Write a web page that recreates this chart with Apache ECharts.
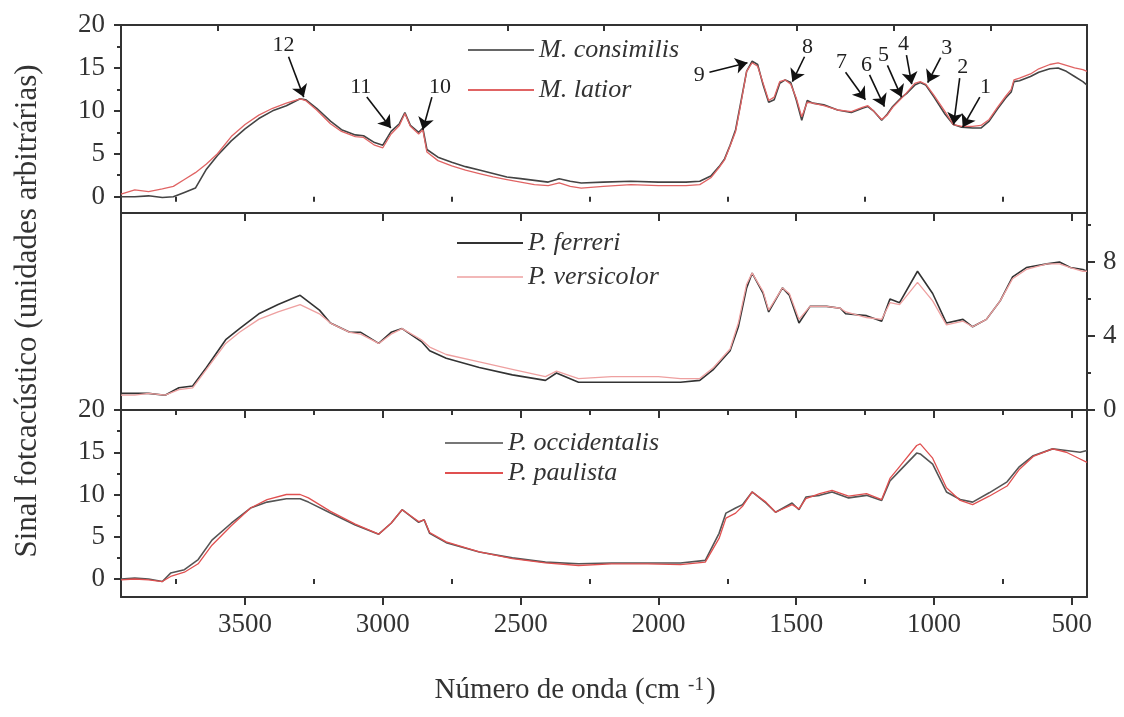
<!DOCTYPE html>
<html>
<head>
<meta charset="utf-8">
<script src="https://cdn.jsdelivr.net/npm/echarts@6.0.0/dist/echarts.min.js"></script>
<style>
  html, body { margin: 0; padding: 0; background: #fff; }
  #chart { width: 1124px; height: 717px; }
</style>
</head>
<body>
<div id="chart"></div>
<script>
// x axis ticks (cm-1)
const xMajor = [500, 1000, 1500, 2000, 2500, 3000, 3500];
const xMinor = [750, 1250, 1750, 2250, 2750, 3250, 3750];

// panel 1: M. consimilis / M. latior
const wn1 = [3950,3900,3850,3800,3760,3720,3680,3640,3600,3550,
  3500,3450,3400,3350,3300,3280,3240,3190,3150,3100,
  3070,3030,3000,2970,2940,2920,2900,2870,2855,2840,
  2800,2750,2700,2650,2600,2550,2500,2450,2400,2360,
  2320,2280,2200,2100,2000,1900,1850,1810,1780,1760,
  1740,1720,1700,1680,1660,1640,1620,1600,1580,1560,
  1540,1520,1500,1480,1460,1440,1400,1350,1300,1260,
  1240,1220,1190,1170,1150,1120,1100,1070,1050,1030,
  1000,960,930,900,860,830,800,770,740,720,
  710,690,650,620,580,550,520,490,460,445];
const consimilis = [0.0,0.0,0.1,-0.1,0.0,0.5,1.0,3.2,4.8,6.5,
  7.9,9.1,10.0,10.6,11.4,11.3,10.3,8.8,7.8,7.2,
  7.1,6.3,6.0,7.6,8.5,9.8,8.3,7.5,8.0,5.5,
  4.6,4.0,3.5,3.1,2.7,2.3,2.1,1.9,1.7,2.1,
  1.8,1.6,1.7,1.8,1.7,1.7,1.8,2.4,3.5,4.4,
  6.0,7.8,11.2,14.6,15.8,15.4,13.0,11.0,11.3,13.2,
  13.6,13.3,11.3,8.9,11.2,10.9,10.7,10.1,9.8,10.3,
  10.5,10.0,8.9,9.6,10.5,11.5,12.0,13.0,13.3,13.0,
  11.6,9.6,8.4,8.1,8.0,8.0,8.8,10.2,11.5,12.2,
  13.4,13.5,14.0,14.5,14.9,15.0,14.6,14.0,13.4,13.0];
const latior = [0.3,0.8,0.6,0.9,1.2,2.0,2.8,3.8,5.0,7.0,
  8.4,9.5,10.3,10.9,11.4,11.2,10.1,8.5,7.6,7.0,
  6.9,6.0,5.7,7.3,8.3,9.7,8.2,7.3,7.8,5.2,
  4.2,3.6,3.1,2.7,2.3,2.0,1.7,1.4,1.3,1.6,
  1.2,1.0,1.2,1.4,1.3,1.3,1.4,2.2,3.4,4.3,
  5.9,7.6,11.0,14.6,15.6,15.2,13.2,11.2,11.6,13.4,
  13.6,13.1,11.5,9.3,11.0,10.9,10.6,10.1,9.9,10.4,
  10.6,10.0,9.0,9.5,10.4,11.4,12.1,13.2,13.4,13.1,
  11.8,9.9,8.4,8.2,8.2,8.3,9.0,10.4,11.7,12.5,
  13.6,13.8,14.3,14.9,15.4,15.6,15.3,15.0,14.8,14.6];

// panel 2: P. ferreri / P. versicolor
const wn2 = [3950,3900,3850,3790,3740,3690,3640,3570,3520,3450,
  3380,3300,3230,3190,3120,3080,3015,2970,2930,2860,
  2830,2770,2650,2530,2410,2370,2290,2170,2000,1920,
  1850,1800,1740,1710,1680,1660,1620,1600,1550,1525,
  1490,1450,1390,1340,1320,1245,1190,1160,1125,1060,
  1005,955,895,860,810,760,715,665,590,545,
  505,460,445];
const ferreri = [0.9,0.9,0.9,0.8,1.2,1.3,2.3,3.8,4.4,5.2,
  5.7,6.2,5.4,4.7,4.2,4.2,3.6,4.2,4.4,3.7,
  3.2,2.8,2.3,1.9,1.6,2.0,1.5,1.5,1.5,1.5,
  1.6,2.2,3.2,4.5,6.6,7.4,6.3,5.3,6.6,6.2,
  4.7,5.6,5.6,5.5,5.2,5.1,4.8,6.0,5.8,7.5,
  6.3,4.7,4.9,4.5,4.9,5.9,7.2,7.7,7.9,8.0,
  7.7,7.6,7.5];
const versicolor = [0.8,0.8,0.9,0.8,1.1,1.2,2.2,3.6,4.2,4.9,
  5.3,5.7,5.2,4.7,4.2,4.1,3.6,4.1,4.4,3.8,
  3.4,3.0,2.6,2.2,1.8,2.1,1.7,1.8,1.8,1.7,
  1.7,2.3,3.3,4.7,6.8,7.4,6.4,5.4,6.6,6.3,
  4.9,5.6,5.6,5.5,5.3,5.0,4.9,5.8,5.7,6.9,
  5.9,4.6,4.8,4.5,4.9,5.9,7.1,7.6,7.9,7.9,
  7.7,7.5,7.5];

// panel 3: P. occidentalis / P. paulista
const wn3 = [3950,3900,3850,3800,3770,3720,3670,3620,3550,3480,
  3420,3350,3300,3270,3190,3100,3015,2970,2930,2870,
  2850,2830,2770,2650,2530,2410,2290,2170,2040,1920,
  1830,1780,1755,1720,1695,1660,1610,1575,1515,1490,
  1465,1415,1370,1310,1245,1190,1160,1125,1063,1050,
  1005,955,905,860,800,735,690,640,570,520,
  470,445];
const occidentalis = [0.0,0.1,0.0,-0.3,0.7,1.1,2.3,4.6,6.6,8.4,
  9.1,9.5,9.5,9.1,7.8,6.4,5.3,6.6,8.2,6.7,
  7.0,5.4,4.3,3.2,2.5,2.0,1.8,1.9,1.9,1.9,
  2.2,5.4,7.8,8.4,8.8,10.3,9.0,7.9,9.0,8.2,
  9.7,9.9,10.3,9.6,9.9,9.3,11.6,12.8,14.9,14.8,
  13.6,10.3,9.4,9.1,10.2,11.5,13.3,14.6,15.4,15.2,
  15.0,15.2];
const paulista = [-0.1,0.0,-0.1,-0.3,0.3,0.8,1.8,4.0,6.3,8.4,
  9.4,10.0,10.0,9.6,8.0,6.5,5.3,6.6,8.2,6.8,
  7.0,5.5,4.4,3.2,2.4,1.9,1.6,1.8,1.8,1.7,
  2.0,4.8,7.2,7.8,8.6,10.3,9.1,7.9,8.8,8.3,
  9.5,10.1,10.5,9.8,10.1,9.4,11.9,13.3,15.8,16.0,
  14.3,10.8,9.3,8.8,9.8,11.0,13.0,14.5,15.4,15.0,
  14.2,13.8];

// numbered arrows in panel 1 (data coordinates)
const arrowNames = ['12','11','10','9','8','7','6','5','4','3','2','1'];
const arrowLabelAt = [[3360,17.7],[3080,12.7],[2793,12.8],[1852,14.2],[1459,17.4],[1336,15.7],
  [1245,15.3],[1183,16.5],[1111,17.8],[954,17.3],[896,15.1],[813,12.7]];
const arrowTail = [[3342,16.3],[3058,11.6],[2822,11.6],[1815,14.5],[1470,16.3],[1321,14.5],
  [1234,14.2],[1169,15.3],[1100,16.5],[976,16.2],[907,13.8],[834,11.6]];
const arrowTip = [[3287,11.6],[2971,8.0],[2855,7.8],[1677,15.6],[1514,13.4],[1249,11.3],
  [1180,10.5],[1118,11.6],[1081,13.1],[1023,13.3],[929,8.4],[896,8.1]];

const FONT = '"Liberation Serif", "Times New Roman", serif';
const AX = '#333';
const X_MIN = 445, X_MAX = 3950;

const pairs = (xs, ys) => xs.map((x, i) => [x, ys[i]]);

function xAx(grid, ticks, len, extra) {
  return Object.assign({
    type: 'value', gridIndex: grid, min: X_MIN, max: X_MAX, inverse: true, position: 'bottom',
    axisLine: { show: true, onZero: false, lineStyle: { color: AX, width: 2 } },
    axisTick: { show: true, customValues: ticks, length: len, lineStyle: { color: AX, width: 2 } },
    axisLabel: { show: false }, splitLine: { show: false }
  }, extra || {});
}
function yAx(grid, pos, min, max, ticks, len, labels, lineShow) {
  return {
    type: 'value', gridIndex: grid, position: pos, min: min, max: max,
    axisLine: { show: lineShow, onZero: false, lineStyle: { color: AX, width: 2 } },
    axisTick: ticks ? { show: true, customValues: ticks, length: len, lineStyle: { color: AX, width: 2 } } : { show: false },
    axisLabel: labels ? { show: true, customValues: labels, fontSize: 27, fontFamily: FONT, color: AX, margin: 16 } : { show: false },
    splitLine: { show: false }
  };
}

const legendText = { fontSize: 26, fontFamily: FONT, fontStyle: 'italic', color: AX, lineHeight: 26 };
const legendBase = { orient: 'vertical', icon: 'rect', itemHeight: 2, textStyle: legendText };

const chart = echarts.init(document.getElementById('chart'));
chart.setOption({
  backgroundColor: '#fff',
  animation: false,
  grid: [
    { left: 121, right: 37, top: 25, height: 188 },
    { left: 121, right: 37, top: 213, height: 197 },
    { left: 121, right: 37, top: 410, height: 187 }
  ],
  xAxis: [
    xAx(0, xMajor, 8),
    xAx(0, xMinor, 5, { axisLine: { show: false } }),
    { type: 'value', gridIndex: 0, position: 'top', min: 0, max: 10, interval: 1,
      axisLine: { show: true, onZero: false, lineStyle: { color: AX, width: 2 } },
      axisTick: { show: true, inside: true, length: 6, lineStyle: { color: AX, width: 2 } },
      axisLabel: { show: false }, splitLine: { show: false } },
    xAx(1, xMajor, 8),
    xAx(1, xMinor, 5, { axisLine: { show: false } }),
    xAx(2, xMajor, 8, { axisLabel: { show: true, customValues: xMajor, fontSize: 27, fontFamily: FONT,
      color: AX, margin: 14, formatter: v => String(v) } }),
    xAx(2, xMinor, 5, { axisLine: { show: false } })
  ],
  yAxis: [
    yAx(0, 'left', -1.9, 20, [0, 5, 10, 15, 20], 7, [0, 5, 10, 15, 20], true),
    yAx(0, 'left', -1.9, 20, [2.5, 7.5, 12.5, 17.5], 4, null, false),
    yAx(0, 'right', -1.9, 20, null, 0, null, true),
    yAx(1, 'right', 0, 10.65, [0, 4, 8], 8, [0, 4, 8], true),
    yAx(1, 'right', 0, 10.65, [2, 6, 10], 4, null, false),
    yAx(1, 'left', 0, 10.65, null, 0, null, true),
    yAx(2, 'left', -2.13, 20, [0, 5, 10, 15, 20], 7, [0, 5, 10, 15, 20], true),
    yAx(2, 'left', -2.13, 20, [2.5, 7.5, 12.5, 17.5], 4, null, false),
    yAx(2, 'right', -2.13, 20, null, 0, null, true)
  ],
  legend: [
    Object.assign({ data: ['M. consimilis', 'M. latior'], left: 463, top: 32, itemWidth: 66, itemGap: 14 }, legendBase),
    Object.assign({ data: ['P. ferreri', 'P. versicolor'], left: 452, top: 225, itemWidth: 66, itemGap: 8 }, legendBase),
    Object.assign({ data: ['P. occidentalis', 'P. paulista'], left: 440, top: 425, itemWidth: 58, itemGap: 4 }, legendBase)
  ],
  graphic: [
    { type: 'text', x: 28, y: 311, rotation: Math.PI / 2,
      style: { text: 'Sinal fotcacústico (unidades arbitrárias)', font: '31px ' + FONT, fill: AX,
        align: 'center', verticalAlign: 'middle', textAlign: 'center', textVerticalAlign: 'middle' } },
    { type: 'text', x: 575, y: 690,
      style: { text: '{a|Número de onda (cm}{b|-1}{a|)}', fill: AX,
        align: 'center', verticalAlign: 'middle', textAlign: 'center', textVerticalAlign: 'middle',
        rich: { a: { fontSize: 29, fontFamily: FONT, fill: AX },
                b: { fontSize: 19, fontFamily: FONT, fill: AX, verticalAlign: 'top', padding: [0, 2, 0, 8] } } } }
  ],
  series: [
    { name: 'M. consimilis', type: 'line', xAxisIndex: 0, yAxisIndex: 0, showSymbol: false, symbol: 'none',
      data: pairs(wn1, consimilis), color: '#666', lineStyle: { width: 1.6, color: '#444' },
      markLine: { silent: true, animation: false, symbol: ['none', 'arrow'], symbolSize: 12,
        lineStyle: { color: '#111', width: 1.6, type: 'solid' }, label: { show: false },
        data: arrowTail.map((t, i) => [
          { coord: t, symbol: 'none' },
          { coord: arrowTip[i], symbol: 'arrow', symbolSize: 12 }
        ]) },
      markPoint: { silent: true, animation: false, symbol: 'circle', symbolSize: 1,
        itemStyle: { color: 'rgba(0,0,0,0)' },
        label: { show: true, position: 'inside', fontSize: 22, fontFamily: FONT, color: '#222', formatter: p => p.name },
        data: arrowLabelAt.map((c, i) => ({ name: arrowNames[i], coord: c })) } },
    { name: 'M. latior', type: 'line', xAxisIndex: 0, yAxisIndex: 0, showSymbol: false, symbol: 'none',
      data: pairs(wn1, latior), color: '#e06464', lineStyle: { width: 1.3, color: '#e06464' } },
    { name: 'P. ferreri', type: 'line', xAxisIndex: 3, yAxisIndex: 3, showSymbol: false, symbol: 'none',
      data: pairs(wn2, ferreri), color: '#333', lineStyle: { width: 1.6, color: '#333' } },
    { name: 'P. versicolor', type: 'line', xAxisIndex: 3, yAxisIndex: 3, showSymbol: false, symbol: 'none',
      data: pairs(wn2, versicolor), color: '#f2b8b8', lineStyle: { width: 1.3, color: '#eea0a0' } },
    { name: 'P. occidentalis', type: 'line', xAxisIndex: 5, yAxisIndex: 6, showSymbol: false, symbol: 'none',
      data: pairs(wn3, occidentalis), color: '#777', lineStyle: { width: 1.6, color: '#555' } },
    { name: 'P. paulista', type: 'line', xAxisIndex: 5, yAxisIndex: 6, showSymbol: false, symbol: 'none',
      data: pairs(wn3, paulista), color: '#e05050', lineStyle: { width: 1.3, color: '#e05050' } }
  ]
});
</script>
</body>
</html>
